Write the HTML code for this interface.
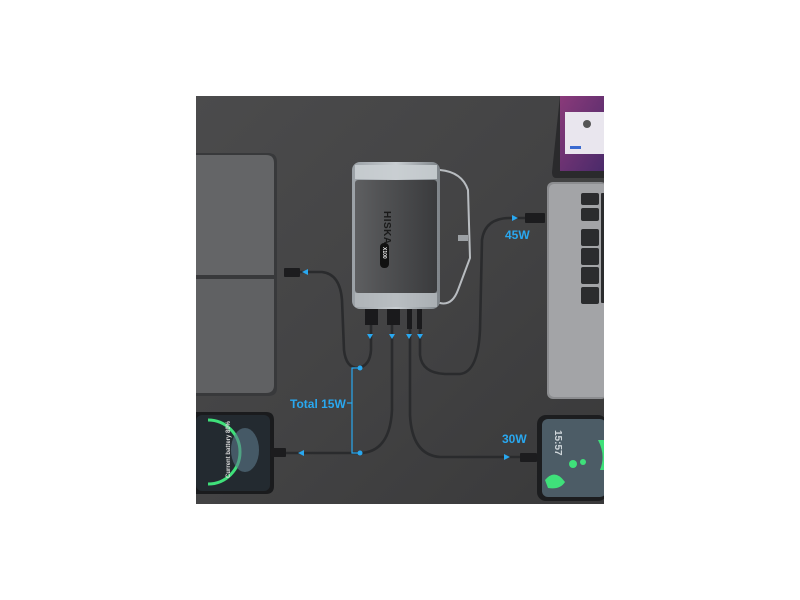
<!DOCTYPE html>
<html><head><meta charset="utf-8"><style>
html,body{margin:0;padding:0;background:#fff;width:800px;height:600px;overflow:hidden}
svg{display:block}
text{font-family:"Liberation Sans",sans-serif;font-weight:bold}
</style></head><body>
<svg width="800" height="600" viewBox="0 0 800 600" xmlns="http://www.w3.org/2000/svg">
<defs>
<linearGradient id="bg" x1="0" y1="0" x2="1" y2="1">
<stop offset="0" stop-color="#4b4b4c"/><stop offset="0.5" stop-color="#434344"/><stop offset="1" stop-color="#39393a"/>
</linearGradient>
<linearGradient id="body" x1="0" y1="0" x2="1" y2="0">
<stop offset="0" stop-color="#5e5f61"/><stop offset="0.3" stop-color="#525355"/><stop offset="1" stop-color="#3a3b3d"/>
</linearGradient>
<linearGradient id="clear" x1="0" y1="0" x2="1" y2="0">
<stop offset="0" stop-color="#9aa0a5"/><stop offset="0.5" stop-color="#c9ced2"/><stop offset="1" stop-color="#7e8489"/>
</linearGradient>
<linearGradient id="scr" x1="0" y1="0" x2="1" y2="1">
<stop offset="0" stop-color="#8a3a7a"/><stop offset="1" stop-color="#4a2a6a"/>
</linearGradient>
<clipPath id="cp"><rect x="196" y="96" width="408" height="408"/></clipPath>
</defs>
<g clip-path="url(#cp)">
<rect x="196" y="96" width="408" height="408" fill="url(#bg)"/>
<!-- left tablet -->
<path d="M196 153 H268 Q277 153 277 162 V388 Q277 396 268 396 H196 Z" fill="#38393b"/>
<path d="M196 155 H266 Q274 155 274 163 V275 H196 Z" fill="#646567"/>
<path d="M196 279 H274 V385 Q274 393 266 393 H196 Z" fill="#606163"/>
<!-- bottom-left phone -->
<path d="M196 412 H266 Q274 412 274 420 V486 Q274 494 266 494 H196 Z" fill="#1a1b1d"/>
<rect x="196" y="415" width="74" height="76" rx="6" fill="#232a30"/>
<path d="M208 420 A30 30 0 0 1 208 484" stroke="#3fe07a" stroke-width="3" fill="none"/>
<ellipse cx="245" cy="450" rx="14" ry="22" fill="#5c7a8a" opacity="0.6"/>
<text x="230" y="478" font-size="6" fill="#ddd" font-weight="normal" transform="rotate(-90 230 478)">Current battery 80%</text>
<!-- top-right laptop screen -->
<path d="M560 96 H604 V178 H556 Q552 178 552 172 Z" fill="#2a2a2c"/>
<rect x="560" y="96" width="44" height="75" fill="url(#scr)"/>
<rect x="565" y="112" width="39" height="42" fill="#e9e6ee"/>
<circle cx="587" cy="124" r="4" fill="#555"/>
<rect x="570" y="146" width="11" height="3" fill="#3a6ad0"/>
<!-- right laptop -->
<rect x="547" y="182" width="60" height="217" rx="6" fill="#8c8d90"/>
<rect x="549" y="184" width="58" height="213" rx="5" fill="#a3a4a7"/>
<g fill="#2b2c2e">
<rect x="581" y="193" width="18" height="12" rx="2"/><rect x="581" y="208" width="18" height="13" rx="2"/>
<rect x="581" y="229" width="18" height="17" rx="2"/><rect x="581" y="248" width="18" height="17" rx="2"/>
<rect x="581" y="267" width="18" height="17" rx="2"/><rect x="581" y="287" width="18" height="17" rx="2"/>
<rect x="601" y="193" width="5" height="110" rx="1"/>
</g>
<!-- bottom-right phone -->
<rect x="537" y="415" width="70" height="86" rx="9" fill="#1c1d1f"/>
<rect x="542" y="419" width="64" height="78" rx="6" fill="#4c5c66"/>
<circle cx="573" cy="464" r="4" fill="#3fe07a"/><circle cx="583" cy="462" r="3" fill="#3fe07a"/>
<path d="M545 480 Q555 468 565 482 Q560 490 548 488 Z" fill="#3fe07a"/>
<path d="M598 440 Q606 455 600 470 L606 470 V440 Z" fill="#3fe07a"/>
<text x="555" y="430" font-size="10" fill="#cfd6da" font-weight="normal" transform="rotate(90 555 430)">15:57</text>
</g>
<!-- cables -->
<g fill="none" stroke="#2a2b2d" stroke-width="2.6" stroke-linecap="round">
<path d="M300 272 H322 Q340 274 342 300 L344 350 Q346 368 358 368 Q370 366 371 350 V325"/>
<path d="M285 453 H360 Q390 452 392 410 V325"/>
<path d="M410 328 V415 Q412 455 440 457 H520"/>
<path d="M420 328 V355 Q422 373 445 374 H460 Q478 372 480 330 L482 240 Q485 218 510 218 H525"/>
<path d="M440 303 Q452 306 458 290 L470 258 L468 190 Q462 172 440 170" stroke="#b8bcc0" stroke-width="2"/>
</g>
<rect x="458" y="235" width="10" height="6" fill="#9ca0a4"/>
<!-- plugs -->
<g fill="#1c1c1e">
<rect x="284" y="268" width="16" height="9" rx="1"/>
<rect x="271" y="448" width="15" height="9" rx="1"/>
<rect x="520" y="453" width="17" height="9" rx="1"/>
<rect x="525" y="213" width="20" height="10" rx="1"/>
</g>
<!-- power bank -->
<rect x="352" y="162" width="88" height="147" rx="8" fill="url(#clear)"/>
<rect x="355" y="180" width="82" height="113" rx="3" fill="url(#body)"/>
<rect x="355" y="293" width="82" height="14" fill="#b4b9bd" opacity="0.8"/>
<rect x="355" y="165" width="82" height="14" fill="#c9ced1" opacity="0.9"/>
<text x="384" y="211" font-size="10" fill="#1a1a1a" transform="rotate(90 384 211)" letter-spacing="0.5">HISKA</text>
<rect x="380" y="243" width="9" height="25" rx="4" fill="#111"/>
<text x="383" y="247" font-size="5" fill="#eee" transform="rotate(90 383 247)">X100</text>
<g fill="#1a1a1c">
<rect x="365" y="309" width="13" height="16"/><rect x="387" y="309" width="13" height="16"/>
<rect x="407" y="309" width="5" height="20"/><rect x="417" y="309" width="5" height="20"/>
</g>
<!-- blue arrows -->
<g fill="#29a8f0">
<path d="M367 334 h6 l-3 5 z"/><path d="M389 334 h6 l-3 5 z"/><path d="M406 334 h6 l-3 5 z"/><path d="M417 334 h6 l-3 5 z"/>
<path d="M302 272 l6 -3 v6 z"/><path d="M298 453 l6 -3 v6 z"/>
<path d="M510 457 l-6 -3 v6 z"/><path d="M518 218 l-6 -3 v6 z"/>
</g>
<g stroke="#29a8f0" stroke-width="1.2" fill="none">
<path d="M360 368 H352 V453 H360"/><path d="M347 403 H352"/>
</g>
<circle cx="360" cy="368" r="2.5" fill="#29a8f0"/><circle cx="360" cy="453" r="2.5" fill="#29a8f0"/>
<text x="505" y="239" font-size="12" fill="#29a8f0">45W</text>
<text x="290" y="408" font-size="12" fill="#29a8f0">Total 15W</text>
<text x="502" y="443" font-size="12" fill="#29a8f0">30W</text>
</svg>
</body></html>
